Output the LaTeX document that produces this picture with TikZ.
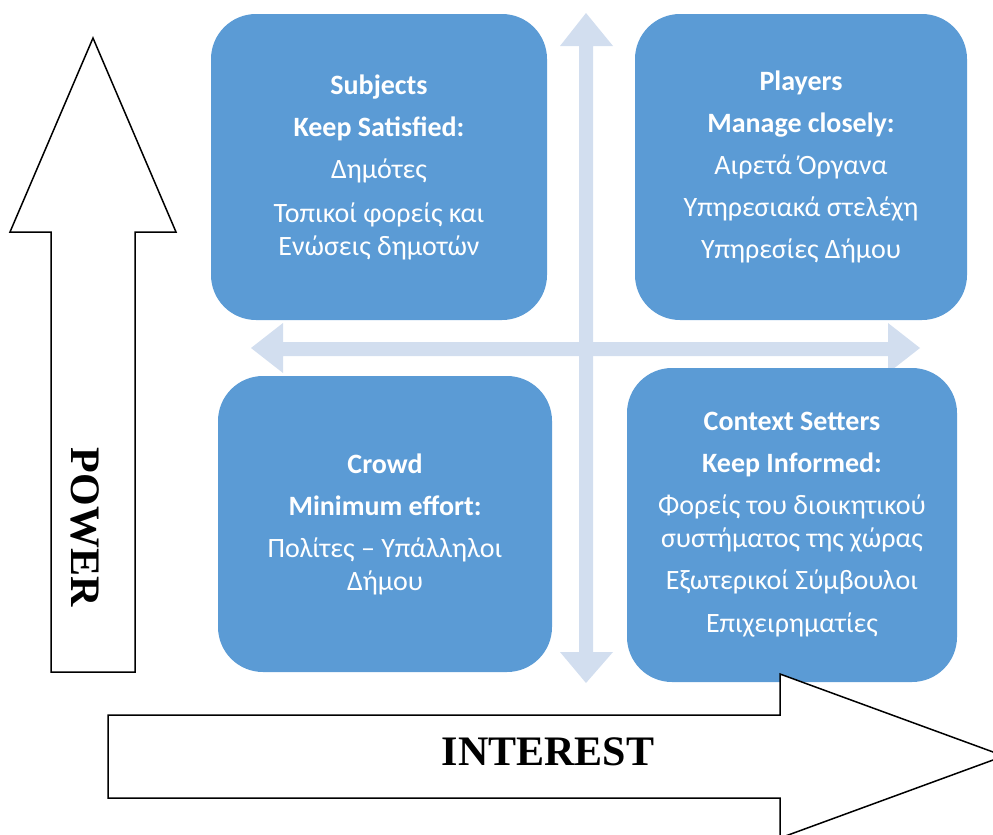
\documentclass[tikz,border=0pt]{standalone}
\usepackage{fontspec}
\setmainfont{Liberation Serif}
\newfontfamily\boxfont{Carlito}
\definecolor{boxblue}{HTML}{5B9BD5}
\definecolor{crossblue}{HTML}{D2DEEF}
\begin{document}
\begin{tikzpicture}[x=1pt,y=-1pt,
  quad/.style={draw=none, fill=boxblue, rectangle, rounded corners=45pt, text=white, align=center,
    font=\boxfont\fontsize{28}{33}\selectfont, inner sep=0pt},
  bigarrow/.style={draw=black, line width=1.5pt, fill=white, line join=miter},
  crossarrow/.style={fill=crossblue, draw=none},
  axislabel/.style={font=\bfseries\fontsize{42}{46}\selectfont, inner sep=0pt}]
\useasboundingbox (0,0) rectangle (993,835);
\clip (0,0) rectangle (993,835);
% light cross
\fill[crossarrow] (586,13) -- (613,46) -- (593,46) -- (593,652) -- (613,652) -- (586,683)
  -- (560,652) -- (579,652) -- (579,46) -- (560,46) -- cycle;
\fill[crossarrow] (251,348) -- (283,323) -- (283,342) -- (888,342) -- (888,323) -- (920,348)
  -- (888,373) -- (888,356) -- (283,356) -- (283,373) -- cycle;
% quadrants
\node[quad, minimum width=336pt, minimum height=306pt] (subjects) at (379,167)
  {\textbf{Subjects}\\[9pt]\textbf{Keep Satisfied:}\\[9pt]Δημότες\\[11pt]Τοπικοί φορείς και\\Ενώσεις δημοτών};
\node[quad, minimum width=332pt, minimum height=306pt] (players) at (801,167)
  {\textbf{Players}\\[9pt]\textbf{Manage closely:}\\[9pt]Αιρετά Όργανα\\[9pt]Υπηρεσιακά στελέχη\\[9pt]Υπηρεσίες Δήμου};
\node[quad, minimum width=334pt, minimum height=296pt] (crowd) at (385,524)
  {\textbf{Crowd}\\[9pt]\textbf{Minimum effort:}\\[9pt]Πολίτες – Υπάλληλοι\\Δήμου};
\node[quad, minimum width=330pt, minimum height=314pt] (context) at (792,525)
  {\textbf{Context Setters}\\[9pt]\textbf{Keep Informed:}\\[9pt]Φορείς του διοικητικού\\συστήματος της χώρας\\[9pt]Εξωτερικοί Σύμβουλοι\\[10pt]Επιχειρηματίες};
% POWER arrow
\draw[bigarrow] (93,38) -- (176,232) -- (135,232) -- (135,672) -- (51,672) -- (51,232) -- (10,232) -- cycle;
\node[axislabel, rotate=-90] (power) at (85,527) {POWER};
% INTEREST arrow
\draw[bigarrow] (108,715) -- (780,715) -- (780,674) -- (1004,756) -- (780,838) -- (780,798) -- (108,798) -- cycle;
\node[axislabel] (interest) at (548,752) {INTEREST};
\end{tikzpicture}
\end{document}
